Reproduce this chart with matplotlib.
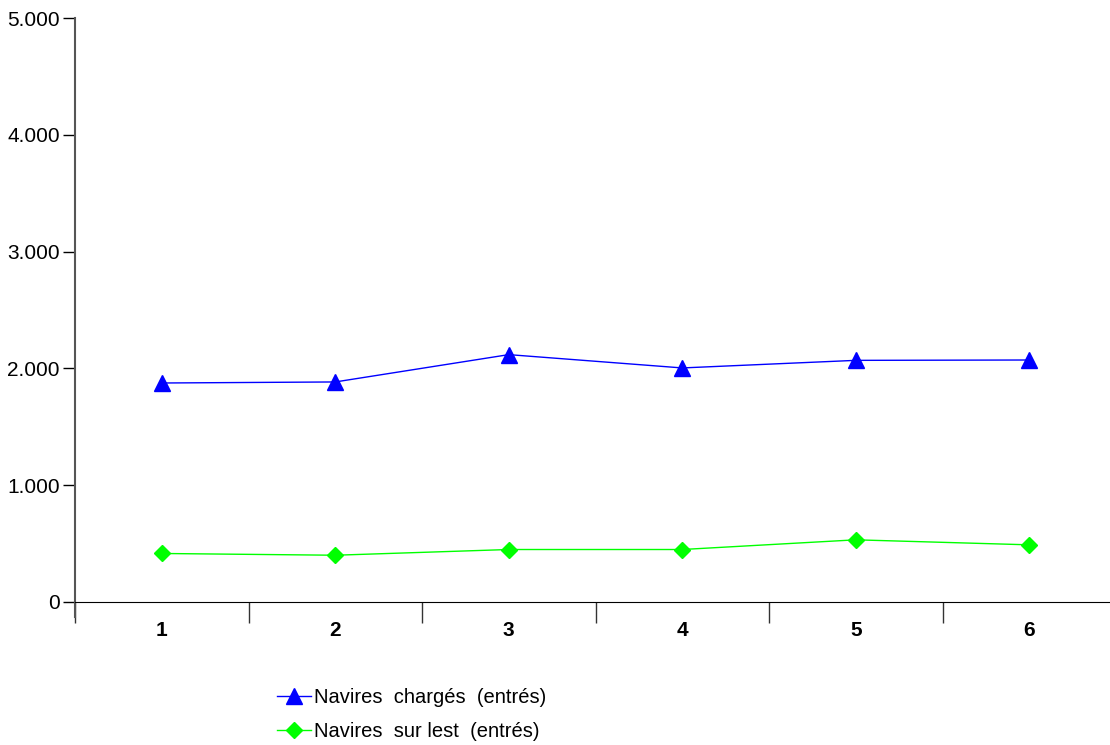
import matplotlib.pyplot as plt
from matplotlib.ticker import FuncFormatter

plt.rcParams['font.family'] = ['Liberation Sans', 'DejaVu Sans']

categories = [1, 2, 3, 4, 5, 6]
charges = [1874, 1883, 2117, 2003, 2068, 2071]
lest = [414, 399, 448, 448, 531, 488]
y_ticks = [0, 1000, 2000, 3000, 4000, 5000]


def thousands(v, pos):
    return "{:,.0f}".format(v).replace(",", ".")


fig = plt.figure(figsize=(11.1, 7.45), dpi=100)
ax = fig.add_axes([75 / 1110, 1 - 617 / 745, 1041 / 1110, 599 / 745])

ax.plot(categories, charges, color="#0000ff", lw=1, marker="^", ms=11,
        label="Navires  chargés  (entrés)")
ax.plot(categories, lest, color="#00ff00", lw=1, marker="D", ms=8,
        label="Navires  sur lest  (entrés)")

ax.set_xlim(0.5, 6.5)
ax.set_ylim(-130, 5000)
ax.set_yticks(y_ticks)
ax.yaxis.set_major_formatter(FuncFormatter(thousands))

# category boundaries get the tick marks, labels sit in the middle
ax.set_xticks([c + 0.5 for c in categories[:-1]] + [0.5])
ax.set_xticklabels([])
ax.tick_params(axis="x", direction="out", length=15, width=1, color="#333333")
ax.tick_params(axis="y", direction="out", length=9, width=1, labelsize=15, pad=2)
for c in categories:
    ax.text(c, -245, str(c), ha="center", va="center", fontsize=15,
            fontweight="bold")

ax.spines["top"].set_visible(False)
ax.spines["right"].set_visible(False)
ax.spines["bottom"].set_position(("data", 0))
ax.spines["left"].set_color("#555555")
ax.spines["left"].set_linewidth(1.5)
ax.patch.set_alpha(0)

ax.legend(loc="upper left", bbox_to_anchor=(259 / 1110, 1 - 670 / 745),
          bbox_transform=fig.transFigure, frameon=False, fontsize=14.5,
          handlelength=1.7, handletextpad=0.15, labelspacing=0.75)

fig.savefig("out.png", dpi=100)
